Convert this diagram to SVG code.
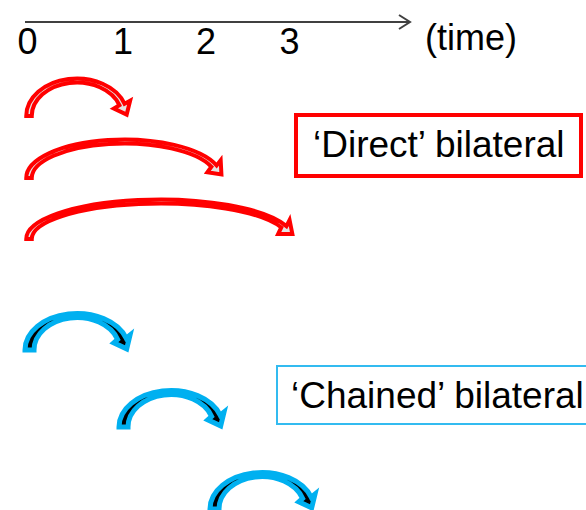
<svg xmlns="http://www.w3.org/2000/svg" width="586" height="510" viewBox="0 0 586 510">
  <style>
    .lbl { font-family: "Liberation Sans", Arial, sans-serif; font-size: 36px; fill: #000; }
    .big { font-size: 37px; }
    .tick { text-anchor: middle; }
    .axis { stroke: #404040; stroke-width: 2; fill: none; }
    .red { fill: #e4e4e4; stroke: #ff0000; stroke-width: 4; stroke-linejoin: miter; }
    .blue { fill: #000; stroke: #00b0f0; stroke-width: 5; stroke-linejoin: miter; }
  </style>
  <defs>
    <!-- curved hop: outer arc, arrowhead, inner arc back to the foot -->
    <path id="hop" d="M25,350 A52,36.5 0 0 1 126.17,338.12 L130.02,335.03 L126.68,348.84 L113.8,342.83 L117.66,339.42 A43,32.5 0 0 0 34,350 Z"/>
  </defs>

  <rect width="586" height="510" fill="#fff"/>

  <!-- time axis -->
  <g id="axis">
    <line class="axis" x1="25" y1="22" x2="410" y2="22"/>
    <polyline class="axis" points="399,15 410,22 399,29"/>
    <text class="lbl tick" x="27.5" y="54">0</text>
    <text class="lbl tick" x="123" y="54">1</text>
    <text class="lbl tick" x="206" y="54">2</text>
    <text class="lbl tick" x="289.5" y="54">3</text>
    <text class="lbl" x="425" y="50">(time)</text>
  </g>

  <!-- labels -->
  <g id="direct-label">
    <rect x="296" y="115" width="285" height="61" fill="#fff" stroke="#ff0000" stroke-width="4"/>
    <text class="lbl big" x="313" y="157">‘Direct’ bilateral</text>
  </g>
  <g id="chained-label">
    <rect x="277" y="366" width="320" height="58" fill="#fff" stroke="#33bbf0" stroke-width="2"/>
    <text class="lbl big" x="291" y="408">‘Chained’ bilateral</text>
  </g>

  <g id="connectors">
    <!-- direct: 0 to 1, 0 to 2, 0 to 3 -->
    <path id="direct-0-1" class="red" d="M26.25,116 A50.55,37.5 0 0 1 124.6,103.79 L130.13,100.77 L126.67,114.55 L113.85,108.43 L119.39,105.09 A45.05,33.5 0 0 0 31.75,116 Z"/>
    <path id="direct-0-2" class="red" d="M26.25,178 A97.85,38.5 0 0 1 216.62,165.46 L220.68,160.22 L221.42,174.42 L207.36,172.34 L211.42,166.77 A92.35,34.5 0 0 0 31.75,178 Z"/>
    <path id="direct-0-3" class="red" d="M26.25,239 A133.75,39.5 0 0 1 286.46,226.14 L289.57,219.99 L292.37,233.93 L278.15,233.91 L281.26,227.44 A128.25,35.5 0 0 0 31.75,239 Z"/>

    <!-- chained: 0 to 1, 1 to 2, 2 to 3 -->
    <use id="chain-0-1" class="blue" href="#hop"/>
    <use id="chain-1-2" class="blue" href="#hop" transform="translate(94,77)"/>
    <use id="chain-2-3" class="blue" href="#hop" transform="translate(185,159)"/>
  </g>
</svg>
